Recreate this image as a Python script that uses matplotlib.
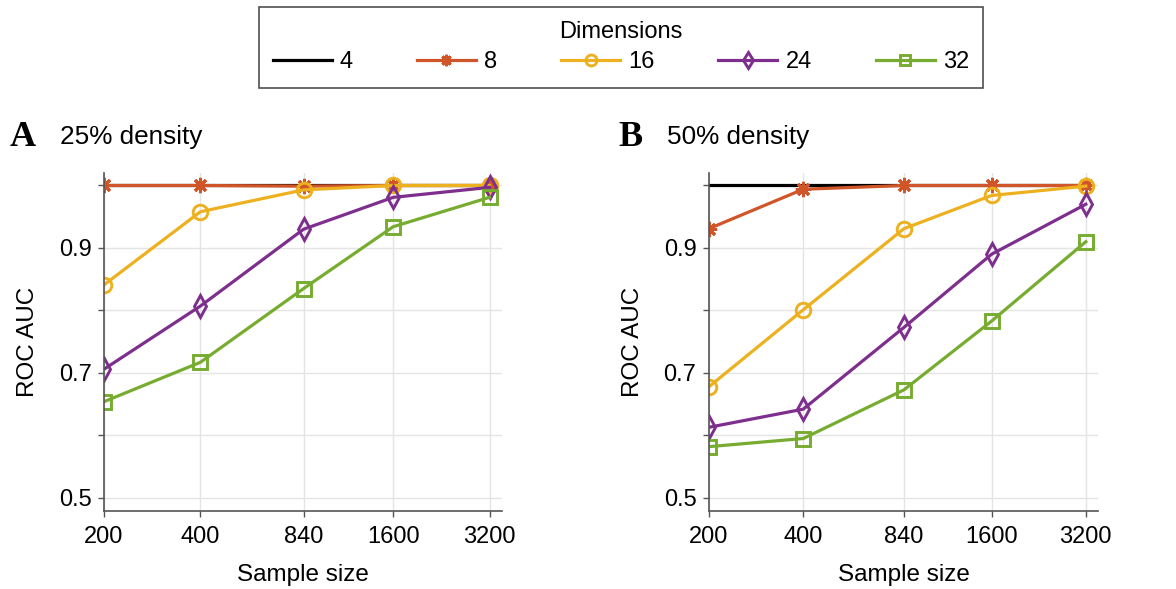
import numpy as np
import matplotlib
matplotlib.use("Agg")
import matplotlib.pyplot as plt
from matplotlib.ticker import FixedLocator, NullLocator, FixedFormatter

plt.rcParams['font.family'] = ['Liberation Sans', 'DejaVu Sans']

sample_sizes = [200, 400, 840, 1600, 3200]
dims = ["4", "8", "16", "24", "32"]

# panel A, 25% density
auc_a_4 = [1.0, 1.0, 1.0, 1.0, 1.0]
auc_a_8 = [1.0, 1.0, 0.999, 1.0, 1.0]
auc_a_16 = [0.841, 0.958, 0.993, 1.0, 1.0]
auc_a_24 = [0.706, 0.807, 0.930, 0.981, 0.997]
auc_a_32 = [0.654, 0.717, 0.835, 0.934, 0.981]

# panel B, 50% density
auc_b_4 = [1.0, 1.0, 1.0, 1.0, 1.0]
auc_b_8 = [0.931, 0.994, 1.0, 1.0, 1.0]
auc_b_16 = [0.678, 0.801, 0.931, 0.984, 0.999]
auc_b_24 = [0.613, 0.642, 0.773, 0.890, 0.970]
auc_b_32 = [0.582, 0.595, 0.673, 0.783, 0.910]

colors = ["#000000", "#D0562A", "#EDB120", "#7E2F8E", "#77AC30"]
markers = ["None", (8, 2, 0), "o", "d", "s"]
msizes = [0, 11, 10.5, 11, 9.5]

fig = plt.figure(figsize=(11.76, 5.89), dpi=100)
ax_a = fig.add_axes([104 / 1176, 1 - 511 / 589, 398 / 1176, 338 / 589])
ax_b = fig.add_axes([709 / 1176, 1 - 511 / 589, 389 / 1176, 338 / 589])


def draw_panel(ax, series):
    handles = []
    for vals, c, m, ms, lab in zip(series, colors, markers, msizes, dims):
        h, = ax.plot(sample_sizes, vals, color=c, lw=2.3, marker=m, ms=ms,
                     mfc="none", mec=c, mew=2.1, label=lab)
        handles.append(h)
    ax.set_xscale("log")
    ax.set_xlim(200, 3500)
    ax.set_ylim(0.479, 1.02)
    ax.xaxis.set_major_locator(FixedLocator(sample_sizes))
    ax.xaxis.set_major_formatter(FixedFormatter([str(s) for s in sample_sizes]))
    ax.xaxis.set_minor_locator(NullLocator())
    ax.set_yticks([0.5, 0.6, 0.7, 0.8, 0.9, 1.0])
    ax.set_yticklabels(["0.5", "", "0.7", "", "0.9", ""])
    ax.grid(True, color="#e4e4e4", lw=1.0)
    ax.set_axisbelow(True)
    for s in ["top", "right"]:
        ax.spines[s].set_visible(False)
    for s in ["left", "bottom"]:
        ax.spines[s].set_color("#555555")
        ax.spines[s].set_linewidth(1.2)
    ax.tick_params(direction="out", length=4, width=1.0, color="#555555",
                   labelsize=17, pad=5)
    ax.tick_params(axis="x", pad=7)
    ax.set_xlabel("Sample size", fontsize=17.5, labelpad=11)
    ax.set_ylabel("ROC AUC", fontsize=17.5, labelpad=14)
    return handles


handles = draw_panel(ax_a, [auc_a_4, auc_a_8, auc_a_16, auc_a_24, auc_a_32])
draw_panel(ax_b, [auc_b_4, auc_b_8, auc_b_16, auc_b_24, auc_b_32])

fig.text(10 / 1176, 1 - 146 / 589, "A", family="Liberation Serif",
         weight="bold", fontsize=26)
fig.text(60 / 1176, 1 - 144 / 589, "25% density", fontsize=18.8)
fig.text(618 / 1176, 1 - 146 / 589, "B", family="Liberation Serif",
         weight="bold", fontsize=26)
fig.text(667 / 1176, 1 - 144 / 589, "50% density", fontsize=18.8)

leg = fig.legend(handles=handles, ncol=5, loc="upper center",
                 bbox_to_anchor=(621 / 1176, 1 - 7 / 589), borderaxespad=0,
                 title="Dimensions", fontsize=17, title_fontsize=17,
                 frameon=True, fancybox=False, handlelength=2.5,
                 columnspacing=2.7, borderpad=0.6, handletextpad=0.35,
                 labelspacing=0.35)
leg.get_frame().set_edgecolor("#222222")
leg.get_frame().set_linewidth(1.2)
for h, ms in zip(leg.legend_handles, msizes):
    h.set_markersize(ms * 0.75)

fig.savefig("out.png", dpi=100)
